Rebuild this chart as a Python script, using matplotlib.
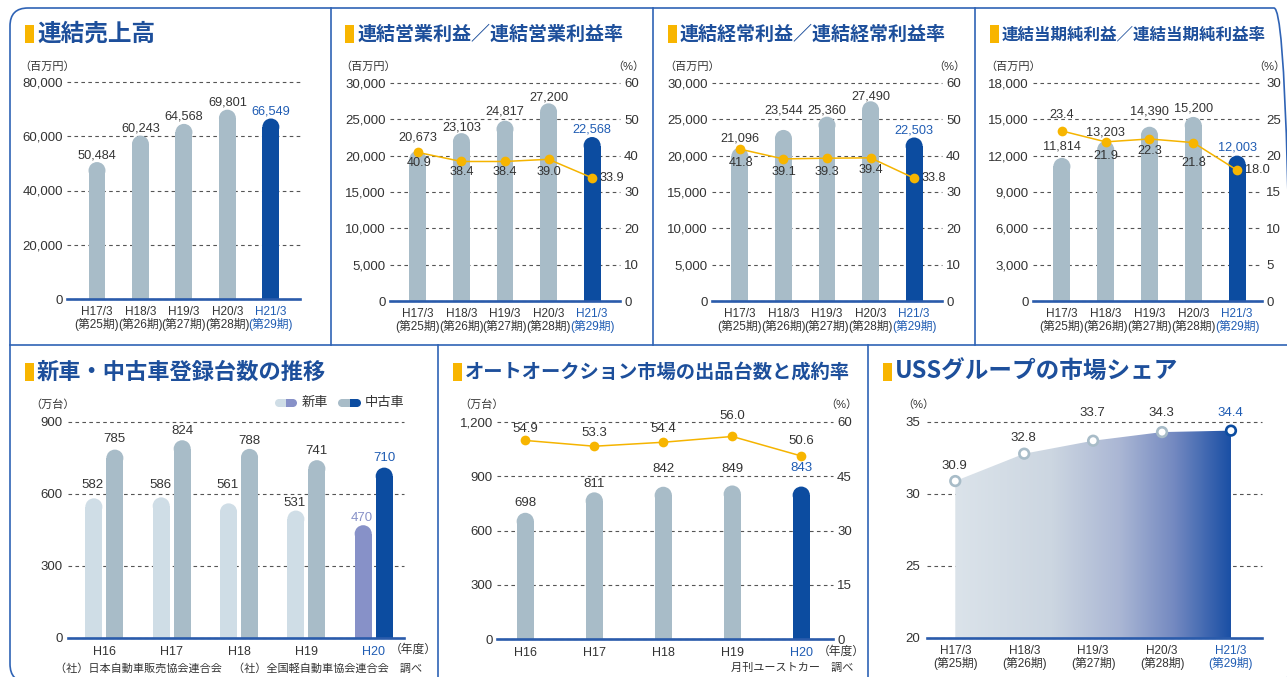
import numpy as np
import matplotlib
matplotlib.use('Agg')
import matplotlib.pyplot as plt
from matplotlib.patches import Ellipse, FancyBboxPatch, Rectangle, Circle
from matplotlib.lines import Line2D
from matplotlib.colors import LinearSegmentedColormap
from matplotlib.transforms import IdentityTransform

plt.rcParams['font.family'] = ['Liberation Sans', 'Noto Sans CJK JP', 'DejaVu Sans']
plt.rcParams['lines.scale_dashes'] = False

# ---------------- data ----------------
periods = ['H17/3', 'H18/3', 'H19/3', 'H20/3', 'H21/3']
terms = ['(第25期)', '(第26期)', '(第27期)', '(第28期)', '(第29期)']
years = ['H16', 'H17', 'H18', 'H19', 'H20']

sales = [50484, 60243, 64568, 69801, 66549]
op_income = [20673, 23103, 24817, 27200, 22568]
op_margin = [40.9, 38.4, 38.4, 39.0, 33.9]
ord_income = [21096, 23544, 25360, 27490, 22503]
ord_margin = [41.8, 39.1, 39.3, 39.4, 33.8]
net_income = [11814, 13203, 14390, 15200, 12003]
net_margin = [23.4, 21.9, 22.3, 21.8, 18.0]
new_cars = [582, 586, 561, 531, 470]
used_cars = [785, 824, 788, 741, 710]
auction_units = [698, 811, 842, 849, 843]
auction_rate = [54.9, 53.3, 54.4, 56.0, 50.6]
uss_share = [30.9, 32.8, 33.7, 34.3, 34.4]

# ---------------- style ----------------
FRAME = '#2f63b5'
TITLE = '#1d4f9b'
YELLOW = '#f8b500'
BAR = '#a8bcc8'
BAR_HL = '#0c4ca0'
NEW = '#cfdde6'
NEW_HL = '#8791c8'
BASE = '#2a5bab'
TXT = '#333333'
HL_TXT = '#1f5cb3'
LINE = '#f5b400'
GRID = '#555555'

W, H = 1287, 677
fig = plt.figure(figsize=(W / 100, H / 100), dpi=100)


def fx(x):
    return x / W


def fy(y):
    return 1 - y / H


def add_ax(rect):
    l, t, r, b = rect
    return fig.add_axes([fx(l), fy(b), (r - l) / W, (b - t) / H])


def style(ax, xlim, ylim, ticks, labels, ypad=3):
    ax.set_xlim(xlim)
    ax.set_ylim(ylim)
    ax.set_yticks(ticks)
    ax.set_yticklabels(labels)
    ax.tick_params(axis='y', length=0, pad=ypad, labelsize=9.5, labelcolor=TXT)
    ax.tick_params(axis='x', length=0, pad=5, labelsize=8.5, labelcolor=TXT)
    for s in ('top', 'right', 'left'):
        ax.spines[s].set_visible(False)
    ax.spines['bottom'].set_color(BASE)
    ax.spines['bottom'].set_linewidth(1.9)
    ax.spines['bottom'].set_zorder(5)
    ax.set_axisbelow(True)
    ax.grid(axis='y', color=GRID, lw=0.8, ls=(0, (2.6, 2.4)))
    ax.grid(axis='x', visible=False)
    for gl in ax.get_ygridlines():
        gl.set_clip_on(False)
    ax.patch.set_alpha(0)


def right_axis(ax, ylim, ticks, labels):
    ax2 = ax.twinx()
    ax2.set_ylim(ylim)
    ax2.set_yticks(ticks)
    ax2.set_yticklabels(labels)
    ax2.tick_params(axis='y', length=0, pad=3, labelsize=9.5, labelcolor=TXT)
    for s in ax2.spines.values():
        s.set_visible(False)
    return ax2


def rbars(ax, rect, x, vals, w, colors):
    l, t, r, b = rect
    x0, x1 = ax.get_xlim()
    y0, y1 = ax.get_ylim()
    ppx = (r - l) / (x1 - x0)
    ppy = (b - t) / (y1 - y0)
    ry = (w / 2 * ppx) / ppy
    vals = np.asarray(vals, float)
    ax.bar(x, vals - ry - y0, bottom=y0, width=w, color=colors, zorder=2, linewidth=0)
    for xi, vi, c in zip(x, vals, colors):
        ax.add_patch(Ellipse((xi, vi - ry), w, 2 * ry, facecolor=c, edgecolor='none', zorder=2))


def lab(ax, x, y, s, dx, dy, color=TXT, size=9.2):
    ax.annotate(s, (x, y), xytext=(dx * 0.72, dy * 0.72), textcoords='offset points',
                ha='center', va='center', fontsize=size, color=color, annotation_clip=False,
                zorder=6)


def header(x, yc, title, size):
    fig.add_artist(Rectangle((fx(x), fy(yc + 9)), 9 / W, 18 / H, transform=fig.transFigure,
                             facecolor=YELLOW, edgecolor='none'))
    fig.text(fx(x + 12), fy(yc), title, fontsize=size, color=TITLE, fontweight='bold',
             va='center', ha='left', family=['Noto Sans CJK JP'])


def ftext(x, y, s, ha='left', size=8, color=TXT):
    fig.text(fx(x), fy(y), s, ha=ha, va='center', fontsize=size, color=color)


def xlabels(ax, labels, n_hl=4):
    ax.set_xticks(range(len(labels)))
    ax.set_xticklabels(labels)
    for i, t in enumerate(ax.get_xticklabels()):
        t.set_linespacing(1.0)
        if i == n_hl:
            t.set_color(HL_TXT)


# ---------------- frames ----------------
fig.add_artist(FancyBboxPatch((10, -5), 1282, 674, boxstyle='round,pad=0,rounding_size=18',
                              transform=IdentityTransform(), facecolor='none',
                              edgecolor=FRAME, linewidth=1.2))
for (xa, ya, xb, yb) in [(331, 8, 331, 345), (653, 8, 653, 345), (975, 8, 975, 345),
                         (10, 345, 1292, 345), (438, 345, 438, 682), (868, 345, 868, 682)]:
    fig.add_artist(Line2D([fx(xa), fx(xb)], [fy(ya), fy(yb)], transform=fig.transFigure,
                          color=FRAME, lw=1.2))

xs = np.arange(5)
top_labels = [f'{p}\n{t}' for p, t in zip(periods, terms)]
bar_cols = [BAR] * 4 + [BAR_HL]
txt_cols = [TXT] * 4 + [HL_TXT]
BW = 0.39

# ---------------- P1: sales ----------------
R1 = (67, 82, 300, 299)
ax = add_ax(R1)
style(ax, (-0.69, 4.67), (0, 80000), [0, 20000, 40000, 60000, 80000],
      ['0', '20,000', '40,000', '60,000', '80,000'], ypad=3)
rbars(ax, R1, xs, sales, BW, bar_cols)
xlabels(ax, top_labels)
for i, v in enumerate(sales):
    lab(ax, i, v, f'{v:,}', 0, 7, txt_cols[i])
header(25, 34, '連結売上高', 17)
ftext(19, 67, '（百万円）')


# ---------------- P2-P4 ----------------
def combo(rect, xlim, ymax, lstep, rmax, rstep, bars, rates, bar_dy, rate_off, title, hx, tsize,
          unit_l, unit_r):
    ax = add_ax(rect)
    lt = list(range(0, ymax + 1, lstep))
    style(ax, xlim, (0, ymax), lt, [f'{t:,}' for t in lt], ypad=3)
    rbars(ax, rect, xs, bars, BW, bar_cols)
    xlabels(ax, top_labels)
    rt = list(range(0, rmax + 1, rstep))
    ax2 = right_axis(ax, (0, rmax), rt, [str(t) for t in rt])
    ax2.plot(xs, rates, color=LINE, lw=1.1, marker='o', ms=7, mfc='#f7b500', mec='none',
             zorder=4, clip_on=False)
    for i, v in enumerate(bars):
        lab(ax, i, v, f'{v:,}', 0, bar_dy[i], txt_cols[i])
    for i, r in enumerate(rates):
        lab(ax2, i, r, f'{r:.1f}', rate_off[i][0], rate_off[i][1], TXT)
    header(hx, 34, title, tsize)
    ftext(unit_l, 67, '（百万円）')
    ftext(unit_r, 67, '（%）', ha='right')


combo((390, 83, 620, 301), (-0.64, 4.64), 30000, 5000, 60, 10, op_income, op_margin,
      [13, 6, 8.7, 6.3, 8], [(1, -11), (0, -11), (0, -11), (0, -12.5), (20, 0)],
      '連結営業利益／連結営業利益率', 345, 13.7, 340, 644)
combo((712, 83, 942, 301), (-0.64, 4.64), 30000, 5000, 60, 10, ord_income, ord_margin,
      [9.7, 19, 6.7, 5, 6.5], [(1, -14), (0, -13), (0, -14), (0, -12), (20, 0)],
      '連結経常利益／連結経常利益率', 668, 13.7, 664, 965)
combo((1033, 83, 1262, 301), (-0.66, 4.57), 18000, 3000, 30, 5, net_income, net_margin,
      [11, 9, 15.7, 8, 8.6], [(0, 16), (0, -14), (0, -12), (0, -20), (20, 0)],
      '連結当期純利益／連結当期純利益率', 990, 11.9, 985, 1285)

# ---------------- P5: new / used registrations ----------------
R5 = (68, 422, 404, 638)
ax = add_ax(R5)
style(ax, (-0.54, 4.45), (0, 900), [0, 300, 600, 900], ['0', '300', '600', '900'], ypad=4)
rbars(ax, R5, xs - 0.156, new_cars, 0.253, [NEW] * 4 + [NEW_HL])
rbars(ax, R5, xs + 0.156, used_cars, 0.253, bar_cols)
xlabels(ax, years)
ax.tick_params(axis='x', pad=6, labelsize=9)
new_dy = [13, 12, 18, 7.6, 7]
used_dy = [10.6, 9.5, 8, 9, 9.6]
for i in range(5):
    lab(ax, i - 0.156, new_cars[i], str(new_cars[i]), -1, new_dy[i],
        NEW_HL if i == 4 else TXT, 9.5)
    lab(ax, i + 0.156, used_cars[i], str(used_cars[i]), 0, used_dy[i], txt_cols[i], 9.5)
header(25, 372, '新車・中古車登録台数の推移', 16)
ftext(30, 405, '（万台）')
ftext(390, 650, '（年度）', size=8.5)
ftext(55, 668, '（社）日本自動車販売協会連合会　（社）全国軽自動車協会連合会　調べ', size=8)


def pill(x0, x1, yc, hgt, c1, c2):
    r = hgt / 2
    xm = (x0 + x1) / 2
    yd = H - yc
    fig.add_artist(Circle((x0 + r, yd), r, transform=IdentityTransform(), facecolor=c1,
                          edgecolor='none'))
    fig.add_artist(Rectangle((x0 + r, yd - r), xm - x0 - r, hgt, transform=IdentityTransform(),
                             facecolor=c1, edgecolor='none'))
    fig.add_artist(Rectangle((xm, yd - r), x1 - r - xm, hgt, transform=IdentityTransform(),
                             facecolor=c2, edgecolor='none'))
    fig.add_artist(Circle((x1 - r, yd), r, transform=IdentityTransform(), facecolor=c2,
                          edgecolor='none'))


pill(275, 297, 403, 8, NEW, NEW_HL)
ftext(302, 403, '新車', size=9.5)
pill(338, 361, 403, 8, BAR, BAR_HL)
ftext(365, 403, '中古車', size=9.5)

# ---------------- P6: auction ----------------
R6 = (497, 422, 833, 639)
ax = add_ax(R6)
style(ax, (-0.41, 4.46), (0, 1200), [0, 300, 600, 900, 1200],
      ['0', '300', '600', '900', '1,200'], ypad=3)
rbars(ax, R6, xs, auction_units, 0.25, bar_cols)
xlabels(ax, years)
ax.tick_params(axis='x', pad=6, labelsize=9)
ax2 = right_axis(ax, (0, 60), [0, 15, 30, 45, 60], ['0', '15', '30', '45', '60'])
ax2.plot(xs, auction_rate, color=LINE, lw=1.1, marker='o', ms=7, mfc='#f7b500', mec='none',
         zorder=4, clip_on=False)
au_dy = [10, 8, 17.7, 16.5, 19]
ar_dy = [11, 13, 13, 20, 15]
for i in range(5):
    lab(ax, i, auction_units[i], str(auction_units[i]), 0, au_dy[i], txt_cols[i], 9.5)
    lab(ax2, i, auction_rate[i], f'{auction_rate[i]:.1f}', 0, ar_dy[i], TXT, 9.5)
header(453, 372, 'オートオークション市場の出品台数と成約率', 13.9)
ftext(459, 405, '（万台）')
ftext(857, 405, '（%）', ha='right')
ftext(818, 652, '（年度）', size=8.5)
ftext(731, 668, '月刊ユーストカー　調べ', size=8)

# ---------------- P7: USS share ----------------
R7 = (927, 422, 1262, 638)
ax = add_ax(R7)
style(ax, (-0.41, 4.45), (20, 35), [20, 25, 30, 35], ['20', '25', '30', '35'], ypad=5)
poly = ax.fill_between(xs, uss_share, 20, facecolor='none', edgecolor='none', zorder=2)
cmap = LinearSegmentedColormap.from_list(
    'uss', [(0.0, '#dbe3ea'), (0.35, '#ccd6e1'), (0.6, '#aab6d4'), (0.8, '#7288c0'),
            (1.0, '#1a4fa5')])
grad = np.linspace(0, 1, 256).reshape(1, -1)
im = ax.imshow(grad, extent=(0, 4, 20, 35), aspect='auto', cmap=cmap, origin='lower', zorder=2)
im.set_clip_path(poly.get_paths()[0], transform=ax.transData)
ax.set_xlim(-0.41, 4.45)
ax.set_ylim(20, 35)
ax.scatter(xs, uss_share, s=48, facecolors='white', edgecolors=[BAR] * 4 + [BAR_HL],
           linewidths=1.9, zorder=4, clip_on=False)
xlabels(ax, top_labels)
sh_dy = [15, 15.7, 28, 19, 18]
for i, v in enumerate(uss_share):
    lab(ax, i, v, f'{v:.1f}', -1, sh_dy[i], txt_cols[i], 9.5)
header(883, 372, 'USSグループの市場シェア', 17)
ftext(902, 405, '（%）')

fig.savefig('out.png', dpi=100, facecolor='white')
